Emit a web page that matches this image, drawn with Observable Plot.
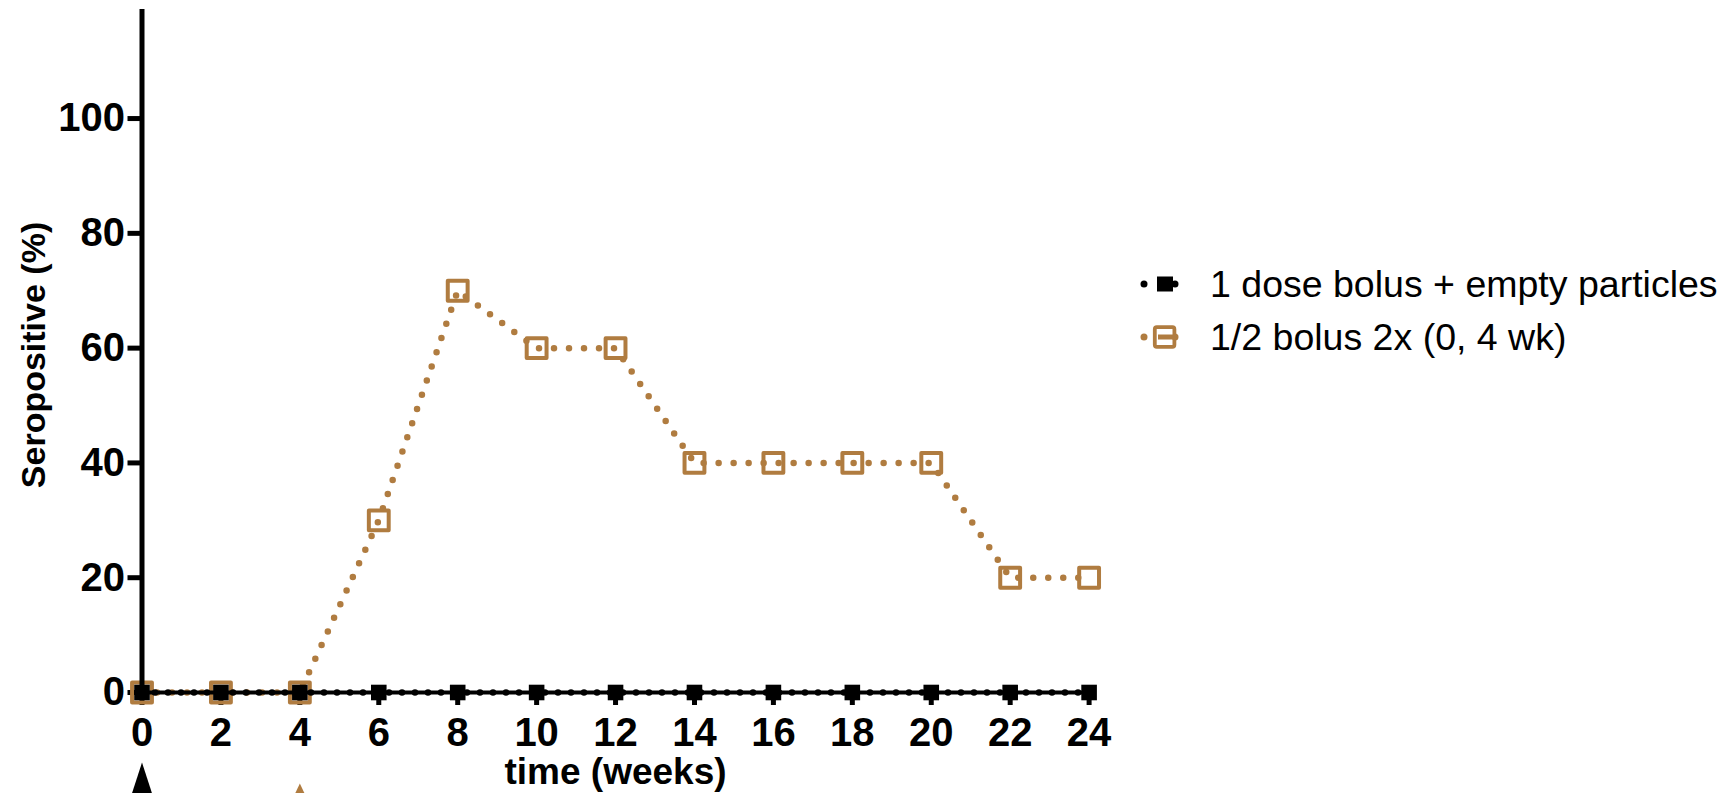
<!DOCTYPE html>
<html>
<head>
<meta charset="utf-8">
<script src="https://cdn.jsdelivr.net/npm/d3@7"></script>
<script src="https://cdn.jsdelivr.net/npm/@observablehq/plot@0.6"></script>
<style>
  html, body { margin: 0; padding: 0; background: #fff; overflow: hidden; }
  #wrap { position: relative; width: 1733px; height: 793px; }
  #legend { position: absolute; left: 0; top: 0; }
</style>
</head>
<body>
<div id="wrap"></div>
<script>
// ---- data ----
const weeks = [0, 2, 4, 6, 8, 10, 12, 14, 16, 18, 20, 22, 24];
const oneDoseBolusEmpty = [0, 0, 0, 0, 0, 0, 0, 0, 0, 0, 0, 0, 0];
const halfBolus2x = [0, 0, 0, 30, 70, 60, 60, 40, 40, 40, 40, 20, 20];
const seriesNames = ["1 dose bolus + empty particles", "1/2 bolus 2x (0, 4 wk)"];
const seriesColors = ["#000000", "#B07C40"];
const doseWeeksBlack = [0];
const doseWeeksBrown = [4];
const xTicks = [0, 2, 4, 6, 8, 10, 12, 14, 16, 18, 20, 22, 24];
const yTicks = [0, 20, 40, 60, 80, 100];

const black = weeks.map((w, i) => ({week: w, value: oneDoseBolusEmpty[i]}));
const brown = weeks.map((w, i) => ({week: w, value: halfBolus2x[i]}));

// narrow triangle anchored at its apex
const arrowSymbol = (ratio) => ({
  draw(context, size) {
    const h = Math.sqrt(size);
    context.moveTo(0, 0);
    context.lineTo(h * ratio / 2, h);
    context.lineTo(-h * ratio / 2, h);
    context.closePath();
  }
});

const font = "'Liberation Sans', Arial, Helvetica, sans-serif";

const chart = Plot.plot({
  width: 1733,
  height: 793,
  marginLeft: 141.5,
  marginRight: 644.4,
  marginTop: 9,
  marginBottom: 101,
  style: {fontFamily: font, background: "transparent", overflow: "visible"},
  x: {domain: [0, 24]},
  y: {domain: [0, 119]},
  marks: [
    Plot.axisY({ticks: yTicks, tickSize: 14, tickPadding: 3, strokeWidth: 5, fontSize: 40, fontWeight: "bold", label: null, fill: "#000"}),
    Plot.axisX({ticks: xTicks, tickSize: 13, tickPadding: 12, strokeWidth: 5, fontSize: 40, fontWeight: "bold", label: null, fill: "#000"}),
    Plot.text(["Seropositive (%)"], {frameAnchor: "left", textAnchor: "middle", rotate: -90, dx: -108, dy: 4, fontSize: 34, fontWeight: "bold", fill: "#000"}),
    Plot.text(["time (weeks)"], {frameAnchor: "bottom", dy: 91, fontSize: 37, fontWeight: "bold", fill: "#000"}),
    // brown series
    Plot.line(brown, {x: "week", y: "value", stroke: seriesColors[1], strokeWidth: 6.5, strokeDasharray: "0 15", strokeLinecap: "round"}),
    Plot.dot(brown, {x: "week", y: "value", symbol: "square", r: 11.2, stroke: seriesColors[1], strokeWidth: 4, fill: "none", strokeLinejoin: "round"}),
    // axis lines
    Plot.ruleX([0], {stroke: "#000", strokeWidth: 5}),
    Plot.ruleY([0], {stroke: "#000", strokeWidth: 4}),
    // black series
    Plot.line(black, {x: "week", y: "value", stroke: seriesColors[0], strokeWidth: 6.5, strokeDasharray: "0 13", strokeLinecap: "round"}),
    Plot.dot(black, {x: "week", y: "value", symbol: "square", r: 8.8, fill: seriesColors[0], stroke: "none"}),
    // dose arrows
    Plot.dot(doseWeeksBlack, {x: d => d, frameAnchor: "bottom", dy: 70, symbol: arrowSymbol(0.65), r: 28, fill: seriesColors[0], stroke: "none"}),
    Plot.dot(doseWeeksBrown, {x: d => d, frameAnchor: "bottom", dy: 91, symbol: arrowSymbol(0.95), r: 14, fill: seriesColors[1], stroke: "none"})
  ]
});

document.getElementById("wrap").appendChild(chart);

// ---- legend (overlay) ----
const leg = d3.select("#wrap").append("svg")
  .attr("id", "legend")
  .attr("width", 1733).attr("height", 793)
  .style("pointer-events", "none");

const rowsY = [284, 337];
seriesNames.forEach((name, i) => {
  const g = leg.append("g").attr("transform", `translate(0,${rowsY[i]})`);
  const c = seriesColors[i];
  g.append("circle").attr("cx", 1144).attr("cy", 0).attr("r", 3.5).attr("fill", c);
  g.append("circle").attr("cx", 1175).attr("cy", 0).attr("r", 3.5).attr("fill", c);
  if (i === 0) {
    g.append("rect").attr("x", 1157).attr("y", -7.5).attr("width", 16).attr("height", 15).attr("fill", c);
  } else {
    g.append("line").attr("x1", 1158).attr("x2", 1172).attr("y1", 0).attr("y2", 0)
      .attr("stroke", c).attr("stroke-width", 5);
    g.append("rect").attr("x", 1154.8).attr("y", -9.8).attr("width", 19.6).attr("height", 19.6)
      .attr("rx", 2).attr("fill", "none").attr("stroke", c).attr("stroke-width", 3.8);
  }
  g.append("text").attr("x", 1210).attr("y", 0).attr("dy", "0.35em")
    .attr("font-family", font).attr("font-size", 37.5).attr("fill", "#000")
    .text(name);
});
</script>
</body>
</html>
